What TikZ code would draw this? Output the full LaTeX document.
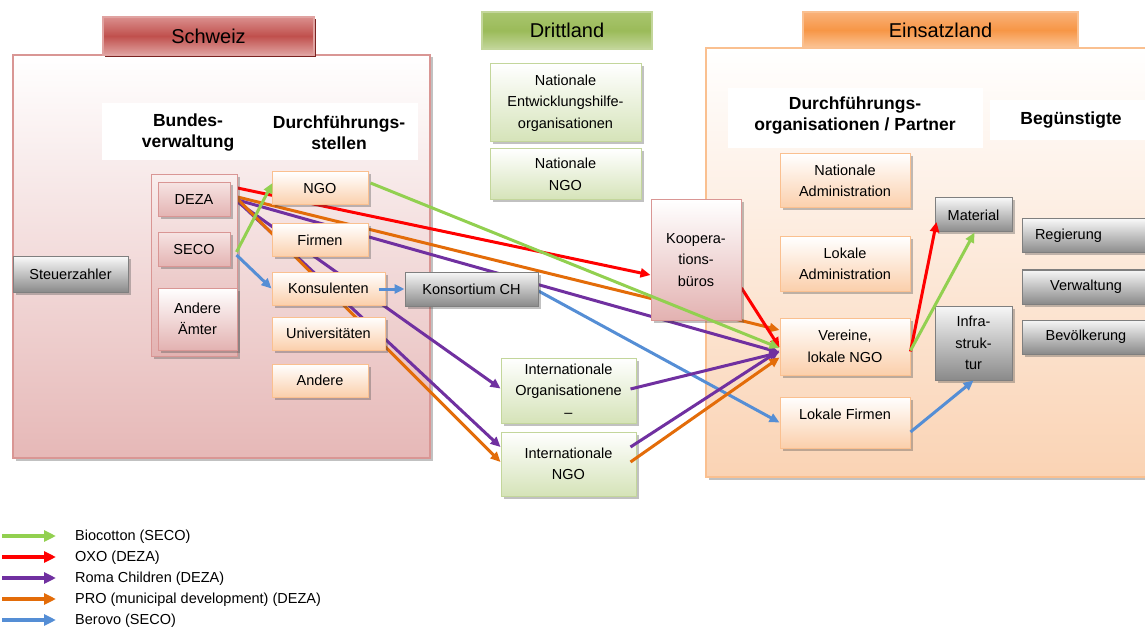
\documentclass[tikz,border=0pt]{standalone}
\usepackage{fontspec}
\setmainfont{Liberation Sans}
\usetikzlibrary{arrows.meta,shadows,calc}
\definecolor{pinkT}{HTML}{F6E3E2}
\definecolor{pinkD}{HTML}{E3B2B1}
\definecolor{pinkB}{HTML}{D99694}
\definecolor{orD}{HTML}{FBCFAB}
\definecolor{orB}{HTML}{FAC090}
\definecolor{grayT}{HTML}{F7F7F7}
\definecolor{grayD}{HTML}{8A8A8A}
\definecolor{grayB}{HTML}{7F7F7F}
\definecolor{grD}{HTML}{D5E3B8}
\definecolor{grB}{HTML}{C3D69B}
\definecolor{schPan}{HTML}{E6B8B7}
\definecolor{einPan}{HTML}{FAD3B4}
\definecolor{schTop}{HTML}{DA8F8D}
\definecolor{schMid}{HTML}{C0504D}
\definecolor{schBot}{HTML}{E0A3A1}
\definecolor{schShadow}{HTML}{7A2321}
\definecolor{drTop}{HTML}{A9C56F}
\definecolor{drMid}{HTML}{9BBB59}
\definecolor{drBot}{HTML}{C3D69B}
\definecolor{eiTop}{HTML}{F9B27A}
\definecolor{eiMid}{HTML}{F79646}
\definecolor{eiBot}{HTML}{FBC598}
\definecolor{cGreen}{HTML}{92D050}
\definecolor{cRed}{HTML}{FF0000}
\definecolor{cPurple}{HTML}{7030A0}
\definecolor{cOrange}{HTML}{E36C09}
\definecolor{cBlue}{HTML}{558ED5}
\newcommand\boxfont{\fontsize{14.5}{21.5}\selectfont}
\newcommand\hdrfont{\fontsize{17.5}{21}\selectfont\bfseries}
\newcommand\ttlfont{\fontsize{20}{24}\selectfont}
\pgfdeclarelayer{bg}
\pgfdeclarelayer{mid}
\pgfsetlayers{bg,mid,main}
\begin{document}
\begin{tikzpicture}[x=1pt,y=-1pt,
  shad/.style={drop shadow={shadow xshift=2.5pt,shadow yshift=-2.5pt,opacity=0.35,fill=black!70}},
  base/.style={shad, line width=1pt, align=center, inner sep=0pt, font=\boxfont},
  pbox/.style={base, draw=pinkB, top color=pinkT, bottom color=pinkD},
  obox/.style={base, draw=orB, top color=white, bottom color=orD},
  gbox/.style={base, draw=grayB, top color=grayT, bottom color=grayD},
  vbox/.style={base, draw=grB, top color=white, bottom color=grD},
  ttl/.style={line width=1.2pt, inner sep=0pt, font=\ttlfont},
  panel/.style={shad, line width=1.2pt, inner sep=0pt},
  hdr/.style={fill=white, inner sep=0pt},
  htext/.style={font=\hdrfont, align=center, inner sep=0pt},
  flow/.style={line width=3pt, -{Triangle[length=10pt,width=9pt]}},
  lflow/.style={line width=4pt, -{Triangle[length=12pt,width=11pt]}},
  ltext/.style={font=\boxfont, anchor=west, inner sep=0pt}]
\useasboundingbox (0,0) rectangle (1145,628);
\clip (0,0) rectangle (1145,628);

% ---------- panels and headers ----------
\begin{pgfonlayer}{bg}
\node[panel, draw=pinkB, top color=white, bottom color=schPan, minimum width=417pt, minimum height=403pt] (schP) at (221.5,256.5) {};
\node[panel, draw=orB, top color=white, bottom color=einPan, minimum width=444pt, minimum height=429pt] (einP) at (928,262.5) {};
\node[hdr, minimum width=316pt, minimum height=57pt] (hdrA) at (260,131.5) {};
\node[hdr, minimum width=255pt, minimum height=60pt] (hdrB) at (855.5,118) {};
\node[hdr, minimum width=160pt, minimum height=40pt] (hdrC) at (1070,120) {};
\end{pgfonlayer}

\node[htext] (tBund) at (188,132.5) {Bundes-\\verwaltung};
\node[htext] (tDurch) at (339,132.5) {Durchführungs-\\stellen};
\node[htext] (tDurchE) at (855,116) {Durchführungs-\\organisationen / Partner};
\node[htext] (tBeg) at (1071,120) {Begünstigte};

% ---------- titles ----------
\node[ttl, draw=schBot, top color=schTop, bottom color=schBot, middle color=schMid,
  drop shadow={shadow xshift=2pt,shadow yshift=-2.5pt,opacity=1,fill=schShadow},
  minimum width=211pt, minimum height=38pt] (schT) at (208.5,36) {Schweiz};
\node[ttl, draw=grB, top color=drTop, bottom color=drBot, middle color=drMid,
  minimum width=170pt, minimum height=37pt] (driT) at (567,30.5) {Drittland};
\node[ttl, draw=orB, top color=eiTop, bottom color=eiBot, middle color=eiMid,
  minimum width=275pt, minimum height=36pt] (einT) at (940.5,30) {Einsatzland};

% ---------- Schweiz ----------
\node[gbox, minimum width=115pt, minimum height=35pt] (steuer) at (70.5,274.5) {Steuerzahler};
\node[pbox, top color=pinkT!60, minimum width=86pt, minimum height=181pt] (bv) at (194,265.5) {};
\node[pbox, minimum width=72pt, minimum height=34pt] (deza) at (194,200) {DEZA};
\node[pbox, minimum width=72pt, minimum height=34pt] (seco) at (194,250) {SECO};
\node[pbox, top color=white, minimum width=79pt, minimum height=62pt] (aemter) at (197.5,319) {Andere\\Ämter};
\node[obox, minimum width=96pt, minimum height=33pt] (ngo) at (320,188.5) {NGO};
\node[obox, minimum width=96pt, minimum height=33pt] (firmen) at (320,240.5) {Firmen};
\node[obox, minimum width=113pt, minimum height=33pt] (konsul) at (328.5,288.5) {Konsulenten};
\node[obox, minimum width=113pt, minimum height=33pt] (uni) at (328.5,333.5) {Universitäten};
\node[obox, minimum width=96pt, minimum height=33pt] (andere) at (320,380.5) {Andere};
\node[gbox, minimum width=133pt, minimum height=34pt] (konsort) at (471.5,289) {Konsortium CH};

% ---------- Drittland ----------
\node[vbox, minimum width=151pt, minimum height=78pt] (natEntw) at (565.5,103) {Nationale\\Entwicklungshilfe-\\organisationen};
\node[vbox, minimum width=151pt, minimum height=51pt] (natNgo) at (565.5,174.5) {Nationale\\NGO};
\node[vbox, minimum width=135pt, minimum height=65pt] (intOrg) at (568.5,390.5) {Internationale\\Organisationene\\–};
\node[vbox, minimum width=135pt, minimum height=64pt] (intNgo) at (568.5,464) {Internationale\\NGO};
\node[pbox, top color=white, minimum width=90pt, minimum height=120pt] (koop) at (696,260) {Koopera-\\tions-\\büros};

% ---------- Einsatzland ----------
\node[obox, minimum width=130pt, minimum height=54pt] (natAdm) at (845,181) {Nationale\\Administration};
\node[obox, minimum width=130pt, minimum height=54pt] (lokAdm) at (845,264) {Lokale\\Administration};
\node[obox, minimum width=130pt, minimum height=57pt] (vereine) at (845,346.5) {Vereine,\\lokale NGO};
\node[obox, minimum width=130pt, minimum height=51pt, text height=10pt, text depth=17pt] (lokFirm) at (845,422.5) {Lokale Firmen};
\node[gbox, minimum width=77pt, minimum height=34pt] (material) at (973.5,215) {Material};
\node[gbox, minimum width=77pt, minimum height=74pt] (infra) at (973.5,343) {Infra-\\struk-\\tur};
\node[gbox, minimum height=34pt, text width=102pt, inner xsep=13pt, align=left] (reg) at (1086,236) {Regierung};
\node[gbox, minimum width=128pt, minimum height=34pt] (verw) at (1086,287) {Verwaltung};
\node[gbox, minimum width=128pt, minimum height=34pt] (bev) at (1086,337) {Bevölkerung};

% ---------- connectors behind boxes ----------
\begin{pgfonlayer}{mid}
\draw[flow, cRed] ($(deza.east)+(7,-12)$) -- ($(koop.west)+(0,15)$);
\draw[flow, cOrange] ($(deza.east)+(7,-3)$) -- ($(vereine.west)+(0,-16.5)$);
\draw[flow, cPurple] ($(deza.east)+(7,0)$) -- ($(vereine.west)+(0,6)$);
\draw[flow, cPurple] ($(deza.east)+(7,2)$) -- ($(intOrg.west)+(0,-2)$);
\draw[flow, cPurple] ($(deza.east)+(7,1)$) -- ($(intNgo.west)+(0,-17)$);
\draw[flow, cOrange] ($(deza.east)+(7,-1)$) -- ($(intNgo.west)+(0,-2)$);
\draw[flow, cBlue] ($(konsort.east)+(0,2)$) -- (lokFirm.west);
\draw[flow, cRed] ($(koop.east)+(0,28)$) -- ($(vereine.west)+(0,1)$);
\end{pgfonlayer}

% ---------- connectors on top ----------
\draw[flow, cGreen] ($(seco.east)+(6,2)$) -- ($(ngo.west)+(1,-5.5)$);
\draw[flow, cBlue] ($(seco.east)+(6,5)$) -- (konsul.west);
\draw[flow, cBlue] ($(konsul.east)+(-7,0.5)$) -- (konsort.west);
\draw[flow, cGreen] ($(ngo.east)+(2,-5.5)$) -- ($(vereine.west)+(0,1.5)$);
\draw[flow, cPurple] ($(intOrg.east)+(-6,-1.5)$) -- ($(vereine.west)+(0,6)$);
\draw[flow, cPurple] ($(intNgo.east)+(-6,-17)$) -- ($(vereine.west)+(0,4)$);
\draw[flow, cOrange] ($(intNgo.east)+(-6,-2)$) -- ($(vereine.west)+(0,11)$);
\draw[flow, cRed] ($(vereine.east)+(0,5)$) -- ($(material.west)+(2,7)$);
\draw[flow, cGreen] ($(vereine.east)+(0,4)$) -- ($(material.south)+(1,0)$);
\draw[flow, cBlue] ($(lokFirm.east)+(0,9.5)$) -- (infra.south);

% ---------- legend ----------
\coordinate (l1a) at (2,536); \coordinate (l1b) at (56,536);
\coordinate (l2a) at (2,557); \coordinate (l2b) at (56,557);
\coordinate (l3a) at (2,578); \coordinate (l3b) at (56,578);
\coordinate (l4a) at (2,599); \coordinate (l4b) at (56,599);
\coordinate (l5a) at (2,620); \coordinate (l5b) at (56,620);
\draw[lflow, cGreen] (l1a) -- (l1b);
\draw[lflow, cRed] (l2a) -- (l2b);
\draw[lflow, cPurple] (l3a) -- (l3b);
\draw[lflow, cOrange] (l4a) -- (l4b);
\draw[lflow, cBlue] (l5a) -- (l5b);
\node[ltext] (t1) at (75,537) {Biocotton (SECO)};
\node[ltext] (t2) at (75,558) {OXO (DEZA)};
\node[ltext] (t3) at (75,579) {Roma Children (DEZA)};
\node[ltext] (t4) at (75,600) {PRO (municipal development) (DEZA)};
\node[ltext] (t5) at (75,621) {Berovo (SECO)};
\end{tikzpicture}
\end{document}
